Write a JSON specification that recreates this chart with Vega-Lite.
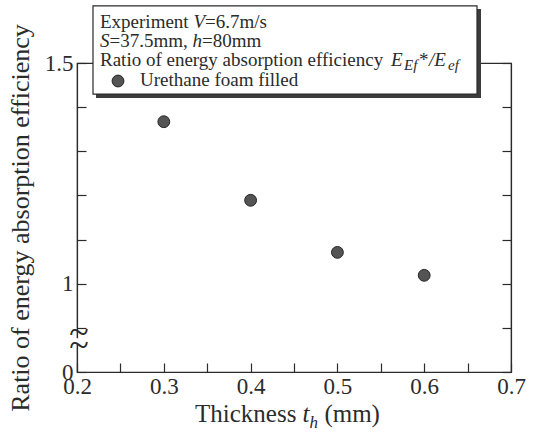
{
  "$schema": "https://vega.github.io/schema/vega-lite/v6.json",
  "width": 434,
  "height": 309,
  "autosize": "none",
  "padding": {"left": 77, "top": 63, "right": 26, "bottom": 65},
  "background": "white",
  "config": {
    "font": "Liberation Serif",
    "view": {"stroke": "#2b2b2b", "strokeWidth": 1.2},
    "text": {"font": "Liberation Serif", "color": "#2b2b2b", "align": "left", "baseline": "alphabetic"}
  },
  "datasets": {
    "efficiency": [
      {"thickness": 0.3, "ratio": 1.367},
      {"thickness": 0.4, "ratio": 1.189},
      {"thickness": 0.5, "ratio": 1.071},
      {"thickness": 0.6, "ratio": 1.019}
    ]
  },
  "layer": [
    {
      "data": {"name": "efficiency"},
      "mark": {"type": "point", "shape": "circle", "filled": true, "size": 140, "fill": "#545454", "stroke": "#262626", "strokeWidth": 1, "opacity": 1},
      "encoding": {
        "x": {
          "field": "thickness", "type": "quantitative",
          "scale": {"domain": [0.2, 0.7], "nice": false, "zero": false},
          "axis": {
            "orient": "bottom",
            "title": null,
            "grid": false,
            "values": [0.2, 0.25, 0.3, 0.35, 0.4, 0.45, 0.5, 0.55, 0.6, 0.65, 0.7],
            "labelExpr": "round(datum.value * 100) % 10 == 0 ? format(datum.value, '.1f') : ''",
            "labelFont": "Liberation Serif", "labelFontSize": 23, "labelColor": "#2b2b2b",
            "labelOverlap": false, "labelFlush": false, "labelBound": false,
            "domainColor": "#2b2b2b", "domainWidth": 1.2,
            "tickColor": "#2b2b2b", "tickWidth": 1.2,
            "tickSize": -9,
            "labelPadding": 12,
            "encode": {"ticks": {"update": {"y2": {"signal": "round(datum.value * 100) % 10 == 0 ? -9 : -5"}}}}
          }
        },
        "y": {
          "field": "ratio", "type": "quantitative",
          "scale": {"domain": [0.8, 1.5], "nice": false, "zero": false},
          "axis": {
            "orient": "left",
            "grid": false,
            "title": "Ratio of energy absorption efficiency",
            "titleFont": "Liberation Serif", "titleFontSize": 26, "titleFontWeight": "normal", "titleColor": "#2b2b2b",
            "titlePadding": 11,
            "values": [0.8, 0.9, 1, 1.1, 1.2, 1.3, 1.4, 1.5],
            "labelExpr": "datum.value == 0.8 ? '0' : datum.value == 1 ? '1' : datum.value == 1.5 ? '1.5' : ''",
            "labelFont": "Liberation Serif", "labelFontSize": 23, "labelColor": "#2b2b2b",
            "labelOverlap": false, "labelFlush": false, "labelBound": false,
            "domainColor": "#2b2b2b", "domainWidth": 1.2,
            "tickColor": "#2b2b2b", "tickWidth": 1.2,
            "tickSize": -9,
            "labelPadding": 13,
            "encode": {
              "ticks": {"update": {"x2": {"signal": "datum.value == 1 ? 9 : 5"}}}
            }
          }
        }
      }
    },
    {
      "data": {"values": [{"x": 0.19194, "x2": 0.20806, "y": 0.87642, "y2": 0.86508}]},
      "mark": {"type": "rect", "fill": "white", "stroke": null},
      "encoding": {
        "x": {"field": "x", "type": "quantitative"},
        "x2": {"field": "x2"},
        "y": {"field": "y", "type": "quantitative", "axis": null},
        "y2": {"field": "y2"}
      }
    },
    {
      "data": {"values": [{"x": 0.2023, "y": 0.8878, "t": "~"}, {"x": 0.2023, "y": 0.8583, "t": "~"}]},
      "mark": {"type": "text", "font": "Liberation Serif", "fontSize": 36, "align": "center", "baseline": "middle"},
      "encoding": {
        "x": {"field": "x", "type": "quantitative"},
        "y": {"field": "y", "type": "quantitative", "axis": null},
        "text": {"field": "t"}
      }
    },
    {
      "data": {"values": [{"x": 0.22189, "x2": 0.66544, "y": 1.62245, "y2": 1.42063}]},
      "mark": {"type": "rect", "fill": "#3c3c3c", "stroke": null},
      "encoding": {
        "x": {"field": "x", "type": "quantitative"},
        "x2": {"field": "x2"},
        "y": {"field": "y", "type": "quantitative", "axis": null},
        "y2": {"field": "y2"}
      }
    },
    {
      "data": {"values": [{"x": 0.21843, "x2": 0.66083, "y": 1.62925, "y2": 1.42971}]},
      "mark": {"type": "rect", "fill": "white", "stroke": "#2b2b2b", "strokeWidth": 1.2},
      "encoding": {
        "x": {"field": "x", "type": "quantitative"},
        "x2": {"field": "x2"},
        "y": {"field": "y", "type": "quantitative", "axis": null},
        "y2": {"field": "y2"}
      }
    },
    {
      "data": {"values": [
        {"x": 0.2265, "y": 1.57937, "t": "Experiment"},
        {"x": 0.34747, "y": 1.57937, "t": "=6.7m/s"},
        {"x": 0.23744, "y": 1.53628, "t": "=37.5mm,"},
        {"x": 0.34412, "y": 1.53628, "t": "=80mm"},
        {"x": 0.2265, "y": 1.4932, "t": "Ratio of energy absorption efficiency"},
        {"x": 0.59401, "y": 1.4932, "t": "*"},
        {"x": 0.27258, "y": 1.44785, "t": "Urethane foam filled"}
      ]},
      "mark": {"type": "text", "fontSize": 19},
      "encoding": {
        "x": {"field": "x", "type": "quantitative"},
        "y": {"field": "y", "type": "quantitative", "axis": null},
        "text": {"field": "t"}
      }
    },
    {
      "data": {"values": [
        {"x": 0.3341, "y": 1.57937, "t": "V"},
        {"x": 0.2265, "y": 1.53628, "t": "S"},
        {"x": 0.33318, "y": 1.53628, "t": "h"},
        {"x": 0.56175, "y": 1.4932, "t": "E"},
        {"x": 0.60553, "y": 1.4932, "t": "/E"}
      ]},
      "mark": {"type": "text", "fontSize": 19, "fontStyle": "italic"},
      "encoding": {
        "x": {"field": "x", "type": "quantitative"},
        "y": {"field": "y", "type": "quantitative", "axis": null},
        "text": {"field": "t"}
      }
    },
    {
      "data": {"values": [
        {"x": 0.57673, "y": 1.48413, "t": "Ef"},
        {"x": 0.62742, "y": 1.48413, "t": "ef"}
      ]},
      "mark": {"type": "text", "fontSize": 15, "fontStyle": "italic"},
      "encoding": {
        "x": {"field": "x", "type": "quantitative"},
        "y": {"field": "y", "type": "quantitative", "axis": null},
        "text": {"field": "t"}
      }
    },
    {
      "data": {"values": [{"x": 0.24724, "y": 1.45918}]},
      "mark": {"type": "point", "shape": "circle", "filled": true, "size": 140, "fill": "#545454", "stroke": "#262626", "strokeWidth": 1, "opacity": 1},
      "encoding": {
        "x": {"field": "x", "type": "quantitative"},
        "y": {
          "field": "y", "type": "quantitative",
          "axis": {
            "orient": "right",
            "grid": false,
            "title": null,
            "labels": false,
            "values": [0.8, 0.9, 1, 1.1, 1.2, 1.3, 1.4, 1.5],
            "domainColor": "#2b2b2b", "domainWidth": 1.2,
            "tickColor": "#2b2b2b", "tickWidth": 1.2,
            "tickSize": -9,
            "encode": {"ticks": {"update": {"x2": {"signal": "datum.value == 1 ? -9 : -5"}}}}
          }
        }
      }
    },
    {
      "data": {"values": [
        {"x": 0.33594, "y": 0.68594, "t": "Thickness"},
        {"x": 0.48502, "y": 0.68594, "t": "(mm)"}
      ]},
      "mark": {"type": "text", "fontSize": 25},
      "encoding": {
        "x": {"field": "x", "type": "quantitative"},
        "y": {"field": "y", "type": "quantitative", "axis": null},
        "text": {"field": "t"}
      }
    },
    {
      "data": {"values": [{"x": 0.45991, "y": 0.68594, "t": "t"}]},
      "mark": {"type": "text", "fontSize": 25, "fontStyle": "italic"},
      "encoding": {
        "x": {"field": "x", "type": "quantitative"},
        "y": {"field": "y", "type": "quantitative", "axis": null},
        "text": {"field": "t"}
      }
    },
    {
      "data": {"values": [{"x": 0.46797, "y": 0.67234, "t": "h"}]},
      "mark": {"type": "text", "fontSize": 17, "fontStyle": "italic"},
      "encoding": {
        "x": {"field": "x", "type": "quantitative"},
        "y": {"field": "y", "type": "quantitative", "axis": null},
        "text": {"field": "t"}
      }
    }
  ],
  "resolve": {"axis": {"y": "independent"}}
}
